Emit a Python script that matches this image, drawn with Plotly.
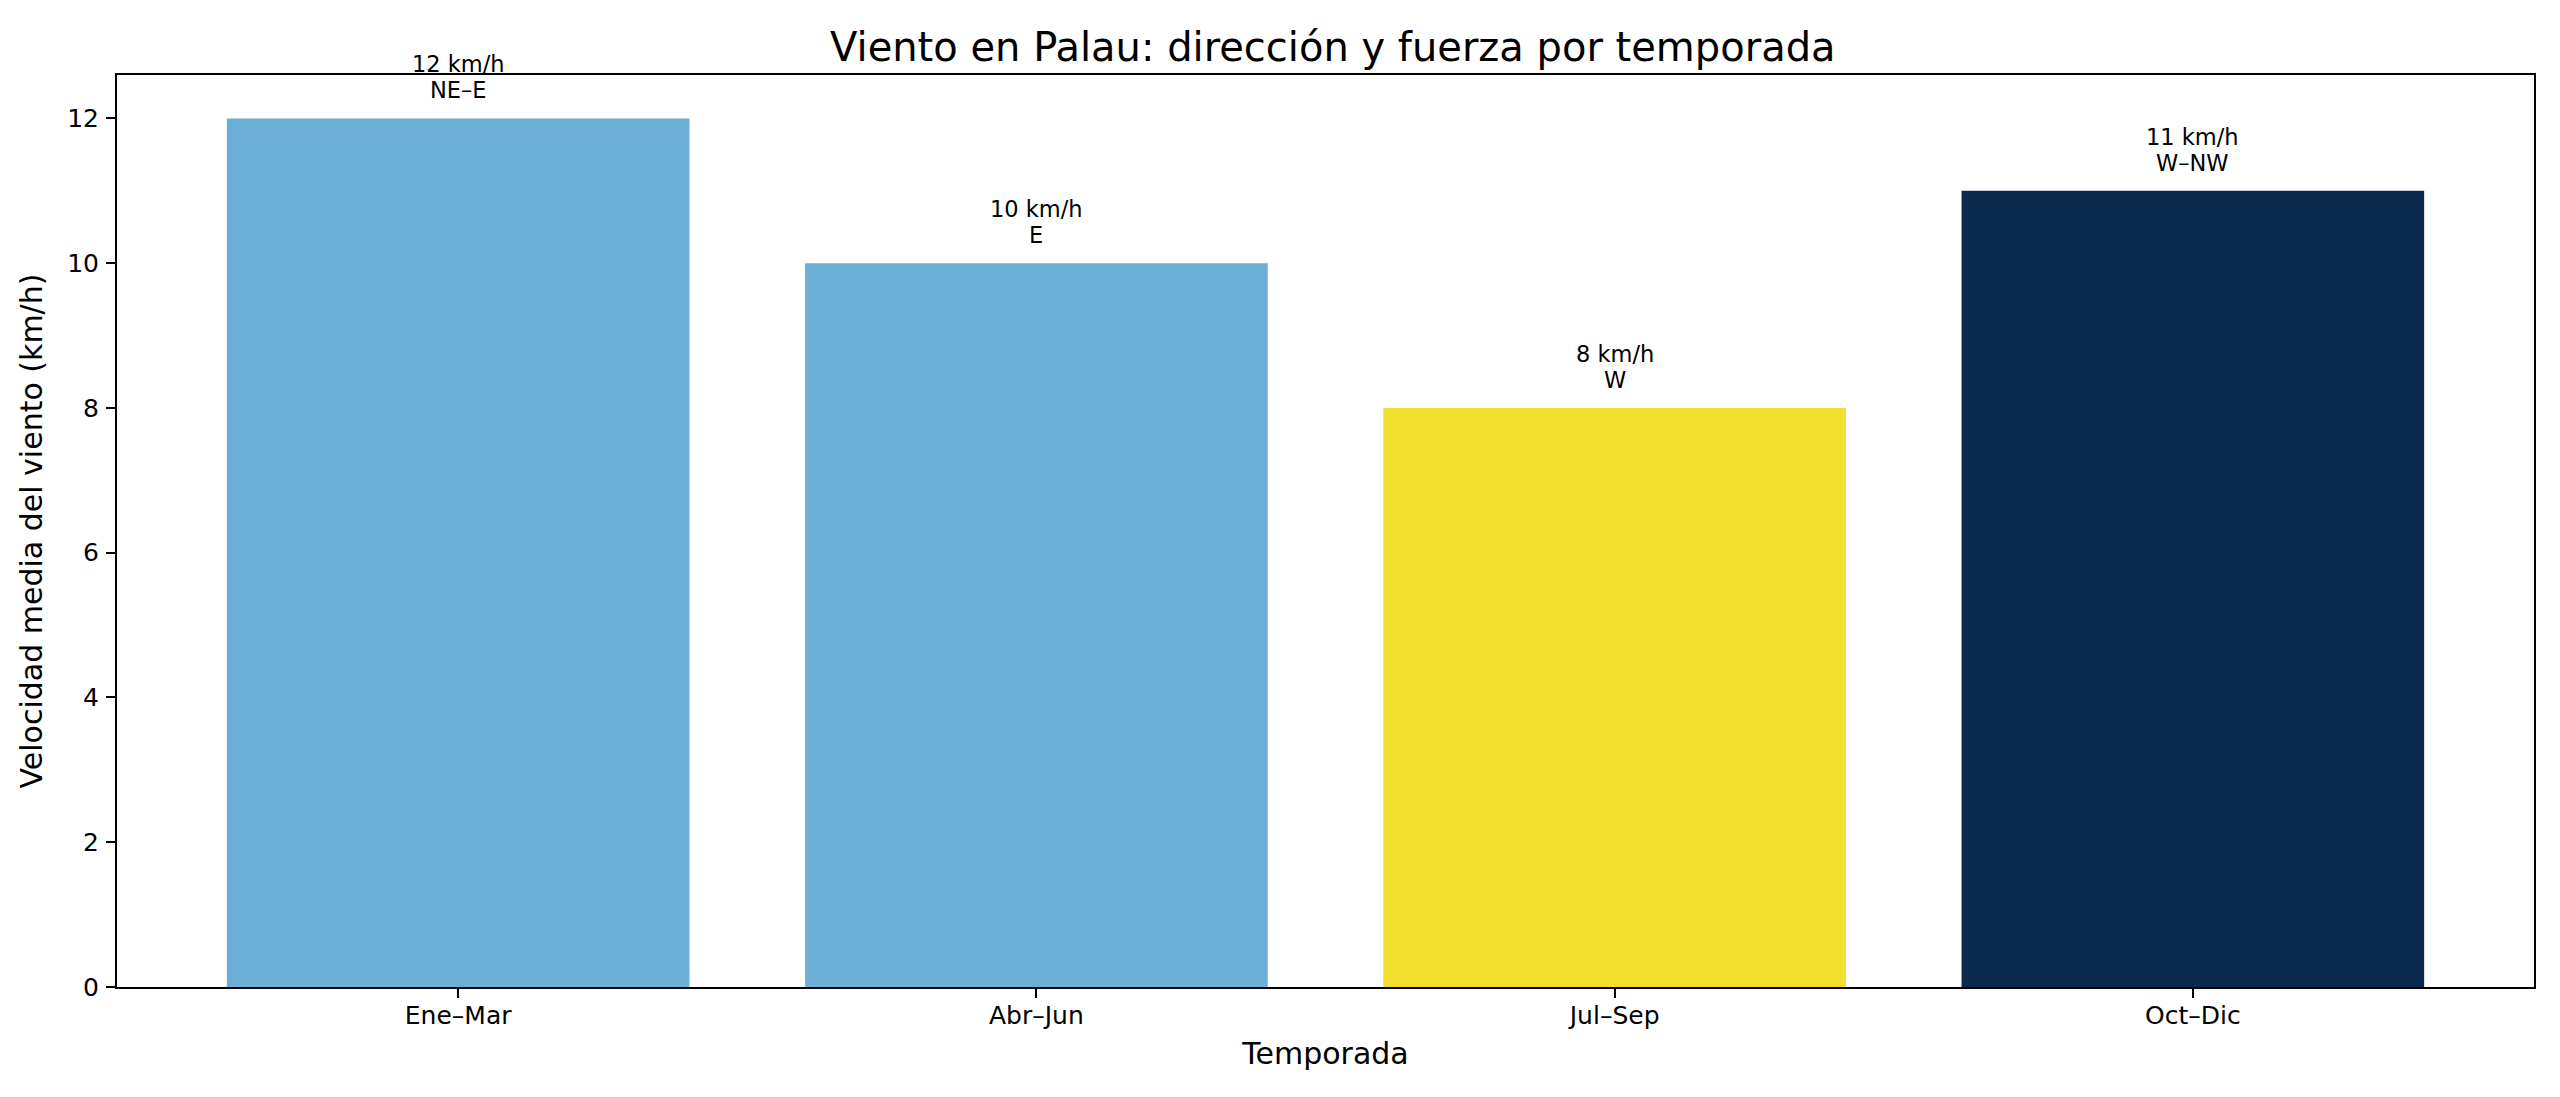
import plotly.graph_objects as go

temporadas = ["Ene–Mar", "Abr–Jun", "Jul–Sep", "Oct–Dic"]
velocidad = [12, 10, 8, 11]
direccion = ["NE–E", "E", "W", "W–NW"]
colores = ["#6baed6", "#6baed6", "#f1de2d", "#0b2a4d"]

fuente = "DejaVu Sans"

fig = go.Figure()
fig.add_trace(go.Bar(x=temporadas, y=velocidad, marker_color=colores, marker_line_width=0, width=0.8, hoverinfo="x+y"))

# dos líneas de texto sobre cada barra
for t, v, d in zip(temporadas, velocidad, direccion):
    fig.add_annotation(x=t, y=v, text=f"{v} km/h", showarrow=False, yanchor="middle", yshift=54,
                       font=dict(family=fuente, size=22.5, color="black"))
    fig.add_annotation(x=t, y=v, text=d, showarrow=False, yanchor="middle", yshift=28,
                       font=dict(family=fuente, size=22.5, color="black"))

eje = dict(showline=True, linecolor="black", linewidth=2, mirror=True, ticks="outside", ticklen=9, tickwidth=2,
           tickcolor="black", showgrid=False, zeroline=False, tickfont=dict(family=fuente, size=25, color="black"))

fig.update_layout(
    width=2560, height=1097,
    margin=dict(l=109, r=34, t=67, b=118),
    plot_bgcolor="white", paper_bgcolor="white",
    showlegend=False,
    title=dict(text="Viento en Palau: dirección y fuerza por temporada", x=0.5175, xanchor="center",
               y=1 - 39 / 1097, yanchor="middle", yref="container", font=dict(family=fuente, size=40, color="black")),
    xaxis=dict(eje, range=[-0.59, 3.59], ticklabelstandoff=-4,
               title=dict(text="Temporada", font=dict(family=fuente, size=30, color="black"), standoff=14)),
    yaxis=dict(eje, range=[0, 12.6], tickvals=[0, 2, 4, 6, 8, 10, 12], ticklabelstandoff=2,
               title=dict(text="Velocidad media del viento (km/h)", font=dict(family=fuente, size=30, color="black"), standoff=16)),
)

fig.write_html("out.html")
